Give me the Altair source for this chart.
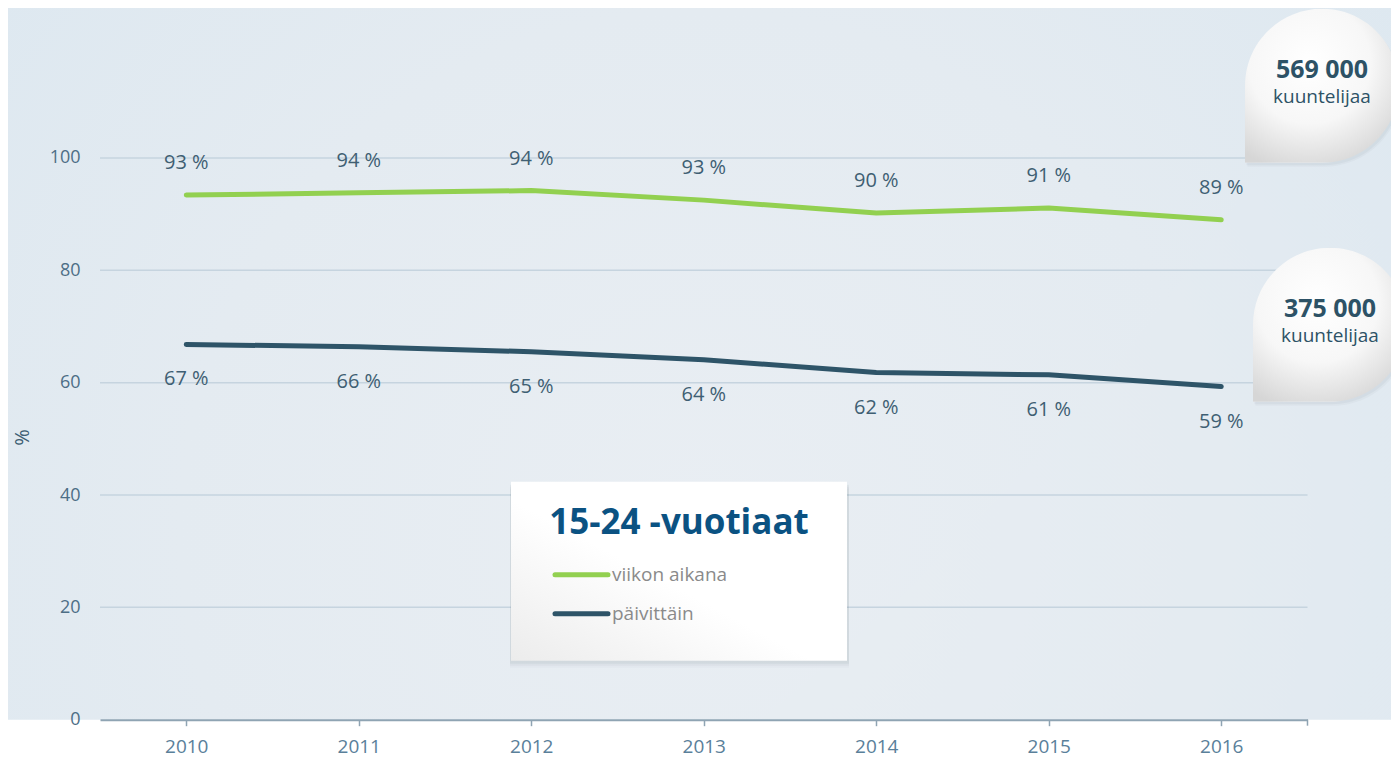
import altair as alt
import pandas as pd

years = ["2010", "2011", "2012", "2013", "2014", "2015", "2016"]
weekly = [93.4, 93.8, 94.2, 92.5, 90.2, 91.1, 89.0]
daily = [66.8, 66.4, 65.5, 64.1, 61.8, 61.4, 59.3]
weekly_labels = ["93 %", "94 %", "94 %", "93 %", "90 %", "91 %", "89 %"]
daily_labels = ["67 %", "66 %", "65 %", "64 %", "62 %", "61 %", "59 %"]
series_names = ["viikon aikana", "päivittäin"]
series_colors = ["#92d050", "#2e5468"]
y_ticks = [0, 20, 40, 60, 80, 100]
grid_values = [20, 40, 60, 80, 100]
legend_title = "15-24 -vuotiaat"
bubble_numbers = ["569 000", "375 000"]
bubble_caption = "kuuntelijaa"

W = 1207.5
H = 561.7
FONT = "Open Sans"

rows = []
for i, yr in enumerate(years):
    rows.append({"year": yr, "value": weekly[i], "series": series_names[0], "label": weekly_labels[i]})
    rows.append({"year": yr, "value": daily[i], "series": series_names[1], "label": daily_labels[i]})
df = pd.DataFrame(rows)
one = pd.DataFrame({"a": [0]})
grid_df = pd.DataFrame({"v": grid_values})

x_enc = alt.X("year:O", scale=alt.Scale(type="point", padding=0.5),
              axis=alt.Axis(title=None, labelAngle=0, domainColor="#8fa4b3", domainWidth=2,
                            tickColor="#8fa4b3", tickWidth=1.5, tickSize=6, labelPadding=12,
                            labelFontSize=19, labelColor="#5a809a", labelFont=FONT, grid=False,
                            zindex=1))
y_enc = alt.Y("value:Q", scale=alt.Scale(domain=[0, 100], nice=False),
              axis=alt.Axis(values=y_ticks, grid=False, domain=False, ticks=False, tickSize=0,
                            labelPadding=20, labelFontSize=18, labelColor="#4d6e86", labelFont=FONT,
                            title="%", titleX=-78, titleY=279, titleFontSize=20, titleFont=FONT,
                            titleFontWeight="normal", titleColor="#3e5f74", titleAngle=-90,
                            titleAlign="center", titleBaseline="middle", zindex=1))

bg = alt.Chart(one).mark_rect(
    fill=alt.RadialGradient(gradient="radial",
                            stops=[alt.GradientStop(color="#e9eef3", offset=0),
                                   alt.GradientStop(color="#e4ebf1", offset=0.5),
                                   alt.GradientStop(color="#dbe7f0", offset=1)],
                            x1=0.5, y1=0.62, r1=0, x2=0.5, y2=0.62, r2=0.75)
).encode(x=alt.value(-92), x2=alt.value(W + 84), y=alt.value(-150), y2=alt.value(H))

grid = alt.Chart(grid_df).mark_rule(color="#c6d4df", strokeWidth=1.5).encode(
    y=alt.Y("v:Q"), x=alt.value(0), x2=alt.value(W))

lines = alt.Chart(df).mark_line(strokeWidth=5, strokeCap="round", strokeJoin="round").encode(
    x=x_enc, y=y_enc,
    color=alt.Color("series:N", scale=alt.Scale(domain=series_names, range=series_colors), legend=None))

lab_top = alt.Chart(df).transform_filter(alt.datum.series == series_names[0]).mark_text(
    dy=-32, fontSize=20, font=FONT, color="#3f5f73").encode(x="year:O", y="value:Q", text="label:N")
lab_bot = alt.Chart(df).transform_filter(alt.datum.series == series_names[1]).mark_text(
    dy=35, fontSize=20, font=FONT, color="#3f5f73").encode(x="year:O", y="value:Q", text="label:N")

end_tick = alt.Chart(one).mark_rule(color="#8fa4b3", strokeWidth=1.5).encode(
    x=alt.value(W), y=alt.value(H), y2=alt.value(H + 6))

# legend box
LX1, LX2, LY1, LY2 = 411, 747, 323.7, 502.7
shadows = []
for off, op in [(7, 0.03), (5, 0.05), (3, 0.07)]:
    shadows.append(alt.Chart(one).mark_rect(fill="#5a6b78", opacity=op).encode(
        x=alt.value(LX1 - 1), x2=alt.value(LX2 + 2), y=alt.value(LY1 + off), y2=alt.value(LY2 + off)))
box = alt.Chart(one).mark_rect(
    fill=alt.LinearGradient(gradient="linear",
                            stops=[alt.GradientStop(color="#ffffff", offset=0),
                                   alt.GradientStop(color="#ffffff", offset=0.55),
                                   alt.GradientStop(color="#ececec", offset=1)],
                            x1=1, y1=0, x2=0, y2=1)
).encode(x=alt.value(LX1), x2=alt.value(LX2), y=alt.value(LY1), y2=alt.value(LY2))
title = alt.Chart(one).mark_text(text=legend_title, fontSize=35, fontWeight="bold", font=FONT,
                                 color="#0b5282", align="center", baseline="middle").encode(
    x=alt.value(579), y=alt.value(364.7))
leg_items = []
for i, (name, col) in enumerate(zip(series_names, series_colors)):
    yy = 416.7 + 39 * i
    leg_items.append(alt.Chart(one).mark_rule(color=col, strokeWidth=5, strokeCap="round").encode(
        x=alt.value(455), x2=alt.value(508), y=alt.value(yy)))
    leg_items.append(alt.Chart(one).mark_text(text=name, fontSize=19, font=FONT, color="#8a8a8a",
                                              align="left", baseline="middle").encode(
        x=alt.value(512), y=alt.value(yy)))

# bubbles
BUB = "M -1 1 L -1 0 A 1 1 0 1 1 0 1 Z"
bub_fill = alt.RadialGradient(gradient="radial",
                              stops=[alt.GradientStop(color="#ffffff", offset=0),
                                     alt.GradientStop(color="#f7f7f7", offset=0.55),
                                     alt.GradientStop(color="#d6d6d6", offset=1)],
                              x1=0.42, y1=0.35, r1=0, x2=0.42, y2=0.35, r2=0.72)
bubbles = []
centers = [(1222, -72.3), (1230, 166.7)]
for (cx, cy), num in zip(centers, bubble_numbers):
    for off, op in [(4, 0.05), (2.5, 0.07)]:
        bubbles.append(alt.Chart(one).mark_point(shape=BUB, size=154 * 154, filled=True, fill="#6c7f8f",
                                                 opacity=op, strokeWidth=0).encode(
            x=alt.value(cx + off * 0.6), y=alt.value(cy + off)))
    bubbles.append(alt.Chart(one).mark_point(shape=BUB, size=154 * 154, filled=True, fill=bub_fill,
                                             opacity=1, strokeWidth=0).encode(
        x=alt.value(cx), y=alt.value(cy)))
    bubbles.append(alt.Chart(one).mark_text(text=num, fontSize=25, fontWeight="bold", font=FONT,
                                            color="#2d5266", align="center", baseline="middle").encode(
        x=alt.value(cx), y=alt.value(cy - 16)))
    bubbles.append(alt.Chart(one).mark_text(text=bubble_caption, fontSize=19, font=FONT,
                                            color="#2d5266", align="center", baseline="middle").encode(
        x=alt.value(cx), y=alt.value(cy + 11)))

chart = alt.layer(bg, grid, lines, lab_top, lab_bot, end_tick, *shadows, box, title, *leg_items,
                  *bubbles).properties(
    width=W, height=H,
    padding={"left": 92, "top": 150, "right": 83, "bottom": 41},
    autosize=alt.AutoSizeParams(type="none"),
    background="white",
).configure_view(stroke=None)

chart.save("out.html", embed_options={"renderer": "svg", "actions": False})
